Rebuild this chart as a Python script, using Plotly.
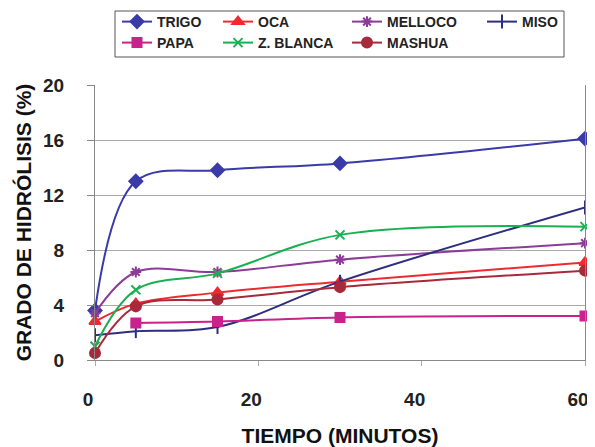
import plotly.graph_objects as go

tiempo = [0, 5, 15, 30, 60]
trigo = [3.6, 13.0, 13.8, 14.3, 16.1]
oca = [2.8, 4.1, 4.9, 5.7, 7.1]
melloco = [3.4, 6.4, 6.4, 7.3, 8.5]
miso = [1.8, 2.1, 2.4, 5.7, 11.1]
papa = [None, 2.7, 2.8, 3.1, 3.2]
z_blanca = [1.0, 5.1, 6.3, 9.1, 9.7]
mashua = [0.5, 3.9, 4.4, 5.3, 6.5]

# the page body has an 8 px margin, so the figure is drawn 8 px in from the window corner
OFF = 8
W, H = 595 - OFF, 447 - OFF
# plot area in window coords: x 95..585, y 85..360
L, R, T, B = 95, 585, 85, 360

# name, values, colour, symbol, size, legend id, legend left px, legend row centre px (window coords)
series = [
    ("TRIGO", trigo, "#3a3aa8", "diamond", 10, "legend", 117, 22),
    ("OCA", oca, "#ee2a30", "triangle-up", 10, "legend2", 218, 22),
    ("MELLOCO", melloco, "#8c3c98", "asterisk-open", 9, "legend3", 347, 22),
    ("MISO", miso, "#2e2e80", "line-ns-open", 10, "legend4", 482, 22),
    ("PAPA", papa, "#c8228c", "square", 9, "legend5", 117, 43),
    ("Z. BLANCA", z_blanca, "#18b050", "x-thin-open", 9, "legend6", 218, 43),
    ("MASHUA", mashua, "#a82a3a", "circle", 10, "legend7", 347, 43),
]

font_family = "Liberation Sans, Arial, sans-serif"
fig = go.Figure()
legend_layouts = {}
for name, vals, color, sym, size, leg, lx, ly in series:
    fig.add_trace(go.Scatter(
        x=tiempo, y=vals, name=name, mode="lines+markers",
        legend=leg, cliponaxis=False,
        line=dict(color=color, width=2, shape="spline", smoothing=1),
        marker=dict(symbol=sym, size=size, color=color,
                    line=dict(color=color, width=2)),
    ))
    legend_layouts[leg] = dict(
        xref="paper", yref="container",
        x=(lx - L) / (R - L), y=1 - (ly - OFF) / H, xanchor="left", yanchor="middle",
        bgcolor="rgba(0,0,0,0)", borderwidth=0,
        font=dict(size=14, family=font_family, weight="bold", color="#222222"),
        itemwidth=30,
    )

fig.update_layout(
    width=W, height=H,
    margin=dict(l=L - OFF, r=W - (R - OFF), t=T - OFF, b=H - (B - OFF)),
    paper_bgcolor="white", plot_bgcolor="white",
    font=dict(family=font_family, color="#111111"),
    showlegend=True,
    **legend_layouts,
    shapes=[dict(
        type="rect", xref="paper", yref="paper",
        x0=(115 - L) / (R - L), x1=(564 - L) / (R - L),
        y0=(B - 57) / (B - T), y1=(B - 11) / (B - T),
        line=dict(color="#555555", width=1), fillcolor="rgba(0,0,0,0)",
    )],
    xaxis=dict(
        range=[0, 60], tickvals=[0, 20, 40, 60],
        showgrid=False, zeroline=False, automargin=False,
        showline=True, linecolor="#888888", linewidth=1,
        ticks="outside", ticklen=5, tickcolor="#aaaaaa",
        tickfont=dict(size=19, weight="bold", color="#222222"),
        ticklabelstandoff=17, ticklabelshift=-7, ticklabeloverflow="allow",
        title=dict(text="TIEMPO (MINUTOS)", font=dict(size=21, weight="bold", color="#111111"), standoff=20),
    ),
    yaxis=dict(
        range=[0, 20], tickvals=[0, 4, 8, 12, 16, 20],
        showgrid=True, gridcolor="#aaaaaa", gridwidth=1,
        zeroline=False, showline=True, linecolor="#888888", linewidth=1,
        mirror=True, automargin=False,
        ticks="outside", ticklen=7, tickcolor="#888888",
        tickfont=dict(size=19, weight="bold", color="#222222"),
        ticklabelstandoff=19,
        title=dict(text="GRADO DE HIDRÓLISIS (%)", font=dict(size=21, weight="bold", color="#111111"), standoff=5),
    ),
)

fig.write_html("out.html")
